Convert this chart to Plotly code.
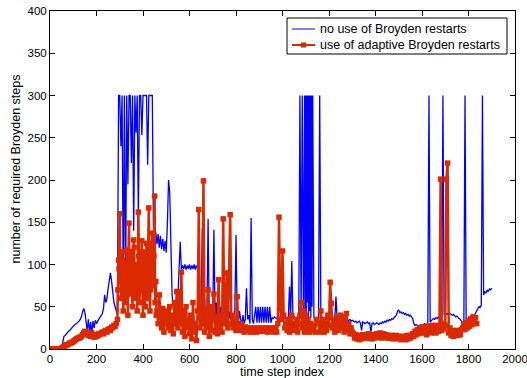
import plotly.graph_objects as go

# time-step spacing of the sampled series
step = 5

# "no use of Broyden restarts" (blue), sampled every 5 time steps from 0 to 1900
blue_y = [
    0, 0, 0, 0, 0, 0, 0, 0, 0, 0, 1,
    8, 15, 16, 18, 19, 21, 22, 24, 25, 27,
    28, 29, 30, 31, 33, 35, 38, 44, 48, 43,
    30, 22, 35, 20, 32, 18, 33, 25, 34, 30,
    33, 35, 37, 40, 42, 48, 64, 55, 60, 72,
    85, 90, 80, 62, 55, 50, 45, 40, 300, 300,
    240, 300, 70, 300, 60, 300, 195, 300, 300, 220,
    300, 140, 300, 256, 300, 155, 300, 300, 253, 300,
    300, 300, 300, 218, 300, 300, 300, 300, 140, 125,
    138, 124, 136, 120, 134, 118, 130, 116, 128, 114,
    150, 200, 185, 120, 65, 50, 40, 55, 45, 60,
    100, 127, 94, 99, 95, 100, 94, 99, 95, 100,
    94, 99, 95, 100, 94, 99, 95, 98, 35, 50,
    143, 30, 60, 25, 45, 154, 30, 50, 25, 40,
    141, 35, 55, 30, 45, 35, 50, 30, 40, 55,
    35, 40, 30, 45, 35, 40, 30, 38, 45, 135,
    40, 30, 45, 35, 30, 40, 30, 35, 72, 35,
    40, 30, 155, 35, 30, 40, 50, 31, 50, 31,
    50, 31, 50, 31, 50, 31, 50, 31, 50, 31,
    37, 36, 38, 37, 36, 37, 38, 36, 37, 36,
    37, 38, 36, 37, 36, 74, 37, 104, 36, 38,
    37, 36, 38, 37, 300, 40, 300, 35, 300, 300,
    300, 300, 300, 300, 300, 300, 38, 36, 37, 35,
    36, 300, 35, 37, 36, 34, 35, 36, 35, 34,
    35, 36, 34, 35, 36, 62, 35, 34, 36, 35,
    34, 35, 36, 34, 35, 33, 34, 35, 33, 34,
    33, 32, 33, 31, 32, 33, 31, 22, 32, 31,
    30, 31, 32, 30, 31, 20, 30, 31, 29, 30,
    31, 30, 29, 31, 30, 32, 31, 33, 32, 34,
    33, 35, 34, 36, 35, 37, 38, 40, 45, 46,
    43, 44, 42, 43, 41, 42, 40, 41, 39, 40,
    38, 36, 30, 28, 29, 28, 27, 28, 29, 28,
    28, 30, 29, 28, 30, 300, 32, 34, 35, 36,
    35, 37, 36, 38, 37, 39, 38, 300, 40, 41,
    42, 41, 43, 42, 41, 40, 41, 40, 38, 39,
    37, 36, 35, 33, 30, 28, 300, 27, 29, 32,
    33, 35, 36, 38, 40, 43, 45, 47, 50, 49,
    52, 300, 64, 68, 66, 70, 68, 71, 70, 72,
]

# extra blue readings inside the dense restart-free burst (time steps 1097..1132)
blue_burst_x = [1097, 1102, 1107, 1112, 1117, 1122, 1127, 1132]
blue_burst_y = [40, 36, 55, 38, 45, 37, 50, 40]

# "use of adaptive Broyden restarts" (red), sampled every 5 time steps from 0 to 1835
red_y = [
    0, 0, 0, 0, 0, 0, 0, 0, 0, 0, 1,
    2, 3, 4, 5, 5, 6, 7, 7, 8, 9,
    10, 11, 12, 13, 13, 14, 15, 17, 19, 21,
    20, 18, 16, 17, 15, 19, 16, 14, 17, 15,
    16, 18, 17, 19, 20, 18, 21, 22, 20, 23,
    24, 22, 26, 25, 28, 27, 30, 35, 105, 160,
    60, 115, 45, 90, 55, 117, 40, 149, 65, 110,
    50, 129, 60, 95, 45, 162, 55, 100, 128, 40,
    90, 50, 125, 60, 167, 45, 100, 137, 75, 181,
    80, 45, 30, 64, 40, 25, 48, 20, 42, 30,
    45, 25, 50, 22, 40, 18, 55, 30, 68, 25,
    68, 30, 91, 20, 45, 15, 50, 25, 35, 18,
    40, 12, 55, 20, 30, 10, 45, 165, 25, 60,
    30, 199, 20, 45, 25, 70, 15, 50, 22, 40,
    65, 20, 35, 18, 82, 25, 40, 20, 154, 30,
    30, 90, 25, 90, 159, 30, 40, 25, 35, 22,
    62, 25, 30, 22, 28, 24, 20, 26, 22, 25,
    23, 20, 25, 22, 20, 25, 22, 20, 23, 25,
    21, 24, 25, 21, 23, 25, 20, 24, 21, 25,
    22, 20, 25, 23, 20, 30, 156, 50, 35, 116,
    40, 25, 30, 22, 35, 20, 28, 40, 22, 30,
    25, 35, 20, 30, 40, 55, 25, 45, 20, 40,
    25, 35, 20, 30, 25, 22, 28, 20, 35, 30,
    30, 20, 45, 25, 35, 20, 30, 22, 40, 28,
    79, 54, 25, 35, 20, 30, 38, 22, 32, 40,
    25, 38, 20, 35, 42, 22, 30, 18, 25, 20,
    18, 13, 17, 12, 16, 11, 15, 12, 17, 13,
    15, 17, 13, 18, 13, 16, 12, 17, 13, 16,
    18, 14, 17, 19, 13, 17, 18, 14, 17, 13,
    16, 13, 15, 16, 12, 16, 13, 16, 12, 15,
    13, 11, 15, 12, 14, 11, 16, 12, 16, 13,
    16, 18, 15, 21, 17, 23, 18, 25, 19, 24,
    26, 19, 25, 17, 27, 21, 26, 19, 28, 21,
    25, 19, 28, 21, 26, 201, 22, 30, 24, 28,
    201, 220, 19, 25, 16, 22, 15, 21, 17, 22,
    16, 21, 17, 23, 25, 29, 23, 31, 25, 34,
    27, 36, 29, 38, 31, 37, 30,
]

# extra red readings inside the dense region (time steps 292..457)
red_burst_x = [292, 297, 302, 307, 312, 317, 322, 327, 332, 337,
               342, 347, 352, 357, 362, 367, 372, 377, 382, 387,
               392, 397, 402, 407, 412, 417, 422, 427, 432, 437,
               442, 447, 452, 457]
red_burst_y = [70, 95, 85, 60, 105, 70, 100, 65, 95, 110,
               80, 115, 70, 90, 120, 75, 100, 65, 110, 80,
               95, 70, 115, 85, 100, 60, 120, 95, 70, 125,
               90, 110, 55, 40]

blue_pts = sorted([(step * i, v) for i, v in enumerate(blue_y)]
                  + list(zip(blue_burst_x, blue_burst_y)))
red_pts = sorted([(step * i, v) for i, v in enumerate(red_y)]
                 + list(zip(red_burst_x, red_burst_y)))
blue_x = [p[0] for p in blue_pts]
blue_v = [p[1] for p in blue_pts]
red_x = [p[0] for p in red_pts]
red_v = [p[1] for p in red_pts]

x_ticks = [0, 200, 400, 600, 800, 1000, 1200, 1400, 1600, 1800, 2000]
y_ticks = [0, 50, 100, 150, 200, 250, 300, 350, 400]

legend_labels = ["no use of Broyden restarts", "use of adaptive Broyden restarts"]

BLUE = "#0000ff"
RED = "#db2900"
FONT = "Liberation Sans, Arial, Helvetica, sans-serif"

fig = go.Figure()
fig.add_trace(go.Scatter(
    x=blue_x, y=blue_v, mode="lines",
    line=dict(color=BLUE, width=1.3),
    name=legend_labels[0], showlegend=False,
))
fig.add_trace(go.Scatter(
    x=red_x, y=red_v, mode="lines+markers",
    line=dict(color=RED, width=2.5),
    marker=dict(symbol="square", size=5.5, color=RED, line=dict(width=0)),
    name=legend_labels[1], showlegend=False,
))

axis_common = dict(
    showgrid=False, zeroline=False, automargin=False,
    showline=True, linecolor="black", linewidth=1, mirror="ticks",
    ticks="inside", ticklen=5, tickcolor="black", tickwidth=1,
    tickfont=dict(family=FONT, size=11.5, color="black"),
    ticklabeloverflow="allow",
)

# plot area in pixels: left 50, right 515, top 11, bottom 349
PW, PH = 465.0, 338.0
def px_x(p):
    return (p - 50) / PW
def px_y(p):
    return (349 - p) / PH

shapes = [
    # legend box
    dict(type="rect", xref="paper", yref="paper",
         x0=px_x(287), x1=px_x(507), y0=px_y(54), y1=px_y(18),
         line=dict(color="black", width=1), fillcolor="white", layer="above"),
    # blue legend sample
    dict(type="line", xref="paper", yref="paper",
         x0=px_x(292), x1=px_x(315), y0=px_y(29), y1=px_y(29),
         line=dict(color=BLUE, width=1), layer="above"),
    # red legend sample
    dict(type="line", xref="paper", yref="paper",
         x0=px_x(292), x1=px_x(315), y0=px_y(45), y1=px_y(45),
         line=dict(color=RED, width=2), layer="above"),
    dict(type="rect", xref="paper", yref="paper",
         x0=px_x(301), x1=px_x(306), y0=px_y(47.5), y1=px_y(42.5),
         line=dict(width=0), fillcolor=RED, layer="above"),
]

annotations = [
    dict(text=legend_labels[0], xref="paper", yref="paper",
         x=px_x(318), y=px_y(29), xanchor="left", yanchor="middle",
         showarrow=False, font=dict(family=FONT, size=12.5, color="black")),
    dict(text=legend_labels[1], xref="paper", yref="paper",
         x=px_x(318), y=px_y(45), xanchor="left", yanchor="middle",
         showarrow=False, font=dict(family=FONT, size=12.5, color="black")),
    # axis titles
    dict(text="time step index", xref="paper", yref="paper",
         x=0.5, y=px_y(371.5), xanchor="center", yanchor="middle",
         showarrow=False, borderpad=0,
         font=dict(family=FONT, size=12.5, color="black")),
    dict(text="number of required Broyden steps", xref="paper", yref="paper",
         x=px_x(15.5), y=px_y(169), xanchor="center", yanchor="middle",
         textangle=-90, showarrow=False,
         font=dict(family=FONT, size=12.5, color="black")),
]

fig.update_layout(
    width=527, height=378,
    margin=dict(l=50, r=12, t=11, b=29, autoexpand=False),
    paper_bgcolor="white", plot_bgcolor="white",
    font=dict(family=FONT, color="black"),
    showlegend=False,
    shapes=shapes,
    annotations=annotations,
    xaxis=dict(range=[0, 2000], tickvals=x_ticks,
               ticktext=[str(v) for v in x_ticks], ticklabelstandoff=-1,
               **axis_common),
    yaxis=dict(range=[0, 400], tickvals=y_ticks,
               ticktext=[str(v) for v in y_ticks], **axis_common),
)

fig.write_html("out.html")
